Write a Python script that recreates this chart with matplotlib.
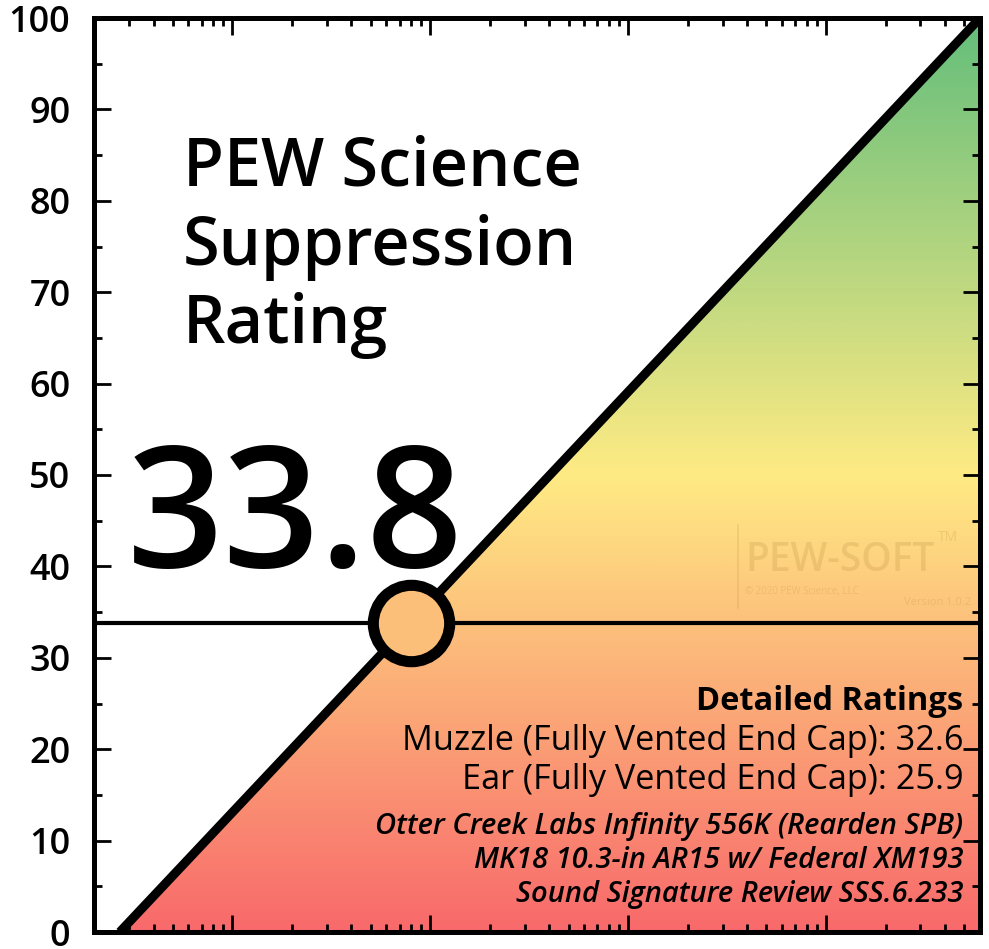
import numpy as np
import matplotlib
matplotlib.use("Agg")
import matplotlib.pyplot as plt
from matplotlib import font_manager
from matplotlib.colors import LinearSegmentedColormap
from matplotlib.patches import Polygon
from matplotlib.ticker import LogLocator, MultipleLocator, NullFormatter

# ratings
rating = 33.8
details_title = "Detailed Ratings"
details = ["Muzzle (Fully Vented End Cap): 32.6",
           "Ear (Fully Vented End Cap): 25.9"]
info = ["Otter Creek Labs Infinity 556K (Rearden SPB)",
        "MK18 10.3-in AR15 w/ Federal XM193",
        "Sound Signature Review SSS.6.233"]
title_lines = ["PEW Science", "Suppression", "Rating"]

# axis / diagonal
x_lim = [0.2, 6000]
y_lim = [0, 100]
diag_x = [0.27, 6000]
diag_y = [0, 100]
y_ticks = list(range(0, 101, 10))
grad_colors = ["#f8696b", "#ffeb84", "#63be7b"]

available = {f.name for f in font_manager.fontManager.ttflist}
main_font = "Open Sans" if "Open Sans" in available else "DejaVu Sans"

plt.rcParams['font.family'] = [main_font, 'DejaVu Sans']

fig = plt.figure(figsize=(9.89, 9.49), dpi=100)
ax = fig.add_axes([94 / 989, 17 / 949, 886 / 989, 914 / 949])
ax.set_xscale('log')
ax.set_xlim(x_lim)
ax.set_ylim(y_lim)

# gradient fill under the diagonal
cmap = LinearSegmentedColormap.from_list("ryg", grad_colors)
grad = np.linspace(0, 1, 512).reshape(-1, 1)
im = ax.imshow(grad, cmap=cmap, extent=[x_lim[0], x_lim[1], y_lim[0], y_lim[1]],
               origin='lower', aspect='auto', zorder=1)
clip = Polygon([[diag_x[0], diag_y[0]], [diag_x[1], diag_y[1]], [x_lim[1], y_lim[0]]],
               closed=True, transform=ax.transData, facecolor='none', edgecolor='none')
ax.add_patch(clip)
im.set_clip_path(clip)

ax.plot(diag_x, diag_y, color='k', lw=6.5, zorder=3, solid_capstyle='butt')
ax.axhline(rating, color='k', lw=3, zorder=3)

# rating position on the diagonal (log x)
lx = np.interp(rating, diag_y, np.log10(diag_x))
ax.plot(10 ** lx, rating, 'o', ms=55, mfc='#fbbf79', mec='k', mew=8,
        zorder=5, clip_on=False)

# watermark
wm = dict(color='#a87830', alpha=0.18, transform=ax.transAxes, zorder=2)
ax.text(0.735, 0.395, "PEW-SOFT", fontsize=28, fontweight='semibold', ha='left', va='baseline', **wm)
ax.text(0.952, 0.428, "TM", fontsize=10, ha='left', va='baseline', **wm)
ax.text(0.735, 0.370, "\u00a9 2020 PEW Science, LLC", fontsize=7, ha='left', va='baseline', **wm)
ax.text(0.99, 0.358, "Version 1.0.2", fontsize=8, ha='right', va='baseline', **wm)
ax.plot([0.727, 0.727], [0.355, 0.445], transform=ax.transAxes, color='#a87830',
        alpha=0.18, lw=1.2, zorder=2)

# texts
for txt, yb in zip(title_lines, [0.817, 0.730, 0.644]):
    ax.text(0.100, yb, txt, fontsize=48, fontweight='semibold', ha='left', va='baseline',
            transform=ax.transAxes, zorder=6)
ax.text(0.037, 0.399, f"{rating:.1f}", fontsize=122, fontweight='semibold', ha='left',
        va='baseline', transform=ax.transAxes, zorder=6)

ax.text(0.981, 0.243, details_title, fontsize=23.5, fontweight='bold', ha='right',
        va='baseline', transform=ax.transAxes, zorder=6)
for txt, yb in zip(details, [0.199, 0.157]):
    ax.text(0.981, yb, txt, fontsize=24.7, ha='right', va='baseline',
            transform=ax.transAxes, zorder=6)
for txt, yb in zip(info, [0.107, 0.070, 0.033]):
    ax.text(0.981, yb, txt, fontsize=21, style='italic', fontweight='semibold', ha='right',
            va='baseline', transform=ax.transAxes, zorder=6)

# ticks and spines
ax.set_yticks(y_ticks)
ax.yaxis.set_minor_locator(MultipleLocator(5))
ax.xaxis.set_major_locator(LogLocator(base=10, numticks=20))
ax.xaxis.set_minor_locator(LogLocator(base=10, subs=np.arange(2, 10), numticks=20))
ax.xaxis.set_major_formatter(NullFormatter())
ax.xaxis.set_minor_formatter(NullFormatter())
ax.tick_params(which='both', direction='in', top=True, right=True, width=2, color='k')
ax.tick_params(which='major', length=12)
ax.tick_params(which='minor', length=6)
ax.tick_params(axis='y', which='major', labelsize=26, pad=17)
for lbl in ax.get_yticklabels():
    lbl.set_fontweight('semibold')
for sp in ax.spines.values():
    sp.set_linewidth(3.6)
    sp.set_zorder(7)

fig.savefig("out.png", dpi=100)
